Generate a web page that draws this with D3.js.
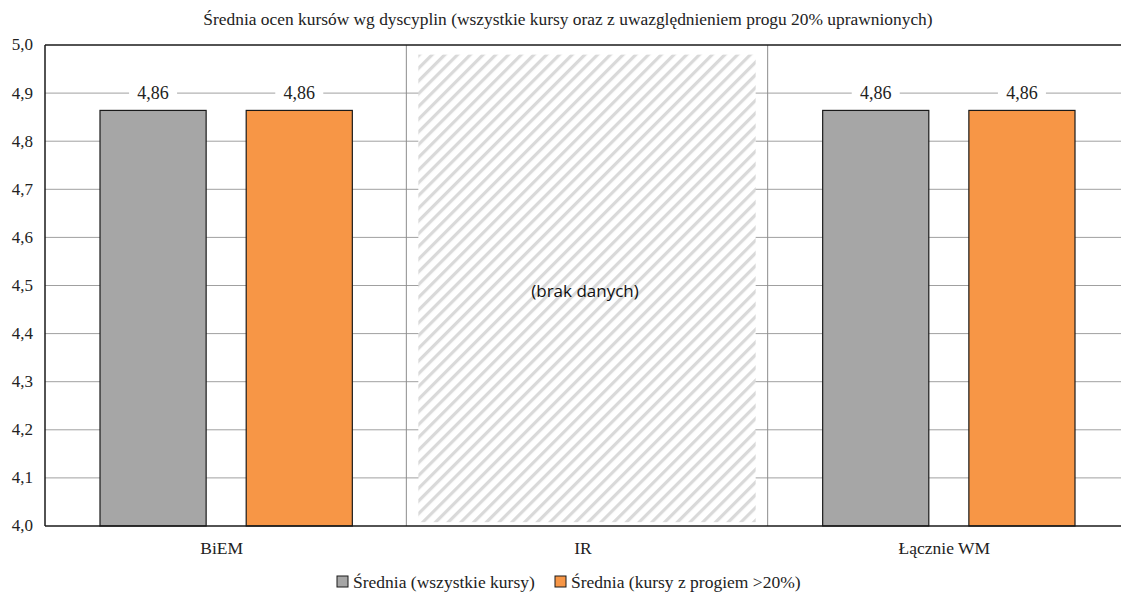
<!DOCTYPE html>
<html lang="pl">
<head>
<meta charset="UTF-8">
<title>Średnia ocen kursów wg dyscyplin</title>
<script src="https://d3js.org/d3.v7.min.js"></script>
<style>
  body { margin: 0; background: #fff; }
  svg { display: block; }
</style>
</head>
<body>
<div id="chart"></div>
<script>
// dane
const categories = ["BiEM", "IR", "Łącznie WM"];
const seriesNames = ["Średnia (wszystkie kursy)", "Średnia (kursy z progiem >20%)"];
const seriesColors = ["#a6a6a6", "#f79646"];
const avgAll = [4.864, null, 4.864];
const avgThreshold = [4.864, null, 4.864];
const valueLabels = ["4,86", null, "4,86"];
const yTicks = [4.0, 4.1, 4.2, 4.3, 4.4, 4.5, 4.6, 4.7, 4.8, 4.9, 5.0];
const noDataText = "(brak danych)";
const title = "Średnia ocen kursów wg dyscyplin (wszystkie kursy oraz z uwazględnieniem progu 20% uprawnionych)";

const SERIF = '"Liberation Serif", serif';
const SANS = '"Open Sans", "Liberation Sans", sans-serif';
const W = 1121, H = 592;
const margin = { top: 45, left: 45, bottom: 66 };
const plotW = 1084;               // plot runs past the right edge, as in the original
const plotH = H - margin.top - margin.bottom;

const svg = d3.select("#chart").append("svg")
  .attr("width", W).attr("height", H);

// hatch pattern for missing data
const defs = svg.append("defs");
const pat = defs.append("pattern")
  .attr("id", "hatch")
  .attr("patternUnits", "userSpaceOnUse")
  .attr("width", 9).attr("height", 9)
  .attr("patternTransform", "rotate(45)");
pat.append("rect").attr("width", 9).attr("height", 9).attr("fill", "#fff");
pat.append("rect").attr("width", 3.2).attr("height", 9).attr("fill", "#d9d9d9");

const g = svg.append("g").attr("transform", `translate(${margin.left},${margin.top})`);

const x = d3.scaleBand().domain(categories).range([0, plotW]);
const y = d3.scaleLinear().domain([4.0, 5.0]).range([plotH, 0]);
const xSub = d3.scaleBand().domain([0, 1]).range([55, x.bandwidth() - 54]).paddingInner(0.274);

// gridlines
g.append("g")
  .selectAll("line")
  .data(yTicks.filter(t => t > 4.0 && t < 5.0))
  .join("line")
  .attr("x1", 0).attr("x2", plotW)
  .attr("y1", d => y(d)).attr("y2", d => y(d))
  .attr("stroke", "#a0a0a0").attr("stroke-width", 1);

// category dividers
g.append("g")
  .selectAll("line")
  .data(categories.slice(1))
  .join("line")
  .attr("x1", d => x(d)).attr("x2", d => x(d))
  .attr("y1", 0).attr("y2", plotH)
  .attr("stroke", "#8c8c8c").attr("stroke-width", 1);

// no data block
categories.forEach((c, i) => {
  if (avgAll[i] !== null) return;
  const x0 = x(c) + 12, w = x.bandwidth() - 24;
  g.append("rect")
    .attr("x", x0).attr("y", y(4.98))
    .attr("width", w).attr("height", y(4.008) - y(4.98))
    .attr("fill", "url(#hatch)");
  g.append("text")
    .attr("x", x0 + w / 2 - 2).attr("y", y(4.5) + 11)
    .attr("text-anchor", "middle")
    .style("font-family", SANS)
    .style("font-size", "17px")
    .style("fill", "#111")
    .text(noDataText);
});

// bars
const series = [avgAll, avgThreshold];
series.forEach((vals, s) => {
  const rows = categories.map((c, i) => ({ c, v: vals[i], lab: valueLabels[i] })).filter(d => d.v !== null);
  g.append("g")
    .selectAll("rect")
    .data(rows)
    .join("rect")
    .attr("x", d => x(d.c) + xSub(s))
    .attr("y", d => y(d.v))
    .attr("width", xSub.bandwidth())
    .attr("height", d => plotH - y(d.v))
    .attr("fill", seriesColors[s])
    .attr("stroke", "#1a1a1a").attr("stroke-width", 1.2);

  // labels with white background over the gridline
  const lbl = g.append("g")
    .selectAll("g")
    .data(rows)
    .join("g")
    .attr("transform", d => `translate(${x(d.c) + xSub(s) + xSub.bandwidth() / 2},${y(d.v) - 18})`);
  lbl.append("rect")
    .attr("x", -24).attr("y", -10).attr("width", 48).attr("height", 20)
    .attr("fill", "#fff");
  lbl.append("text")
    .attr("text-anchor", "middle").attr("dy", "0.35em")
    .style("font-family", SERIF).style("font-size", "18px").style("fill", "#222")
    .text(d => d.lab);
});

// axes frame
g.append("line").attr("x1", 0).attr("x2", plotW).attr("y1", 0).attr("y2", 0)
  .attr("stroke", "#1a1a1a").attr("stroke-width", 1.5);
g.append("line").attr("x1", 0).attr("x2", plotW).attr("y1", plotH).attr("y2", plotH)
  .attr("stroke", "#1a1a1a").attr("stroke-width", 1.5);
g.append("line").attr("x1", 0).attr("x2", 0).attr("y1", 0).attr("y2", plotH)
  .attr("stroke", "#1a1a1a").attr("stroke-width", 1.5);

// y axis labels
const fmt = d3.format(".1f");
g.append("g")
  .selectAll("text")
  .data(yTicks)
  .join("text")
  .attr("x", -12).attr("y", d => y(d)).attr("dy", "0.32em")
  .attr("text-anchor", "end")
  .style("font-family", SERIF).style("font-size", "17px").style("fill", "#222")
  .text(d => fmt(d).replace(".", ","));

// x axis labels
g.append("g")
  .selectAll("text")
  .data(categories)
  .join("text")
  .attr("x", d => x(d) + x.bandwidth() / 2 - 4)
  .attr("y", plotH + 28)
  .attr("text-anchor", "middle")
  .style("font-family", SERIF).style("font-size", "17.5px").style("fill", "#222")
  .text(d => d);

// title
svg.append("text")
  .attr("x", 568).attr("y", 25)
  .attr("text-anchor", "middle")
  .style("font-family", SERIF).style("font-size", "17.4px").style("fill", "#222")
  .text(title);

// legend
const legend = svg.append("g").attr("transform", "translate(337,582)");
const legX = [0, 218];
seriesNames.forEach((n, i) => {
  const it = legend.append("g").attr("transform", `translate(${legX[i]},0)`);
  it.append("rect").attr("x", 0).attr("y", -6).attr("width", 11).attr("height", 11)
    .attr("fill", seriesColors[i]).attr("stroke", "#1a1a1a").attr("stroke-width", 1);
  it.append("text").attr("x", 16).attr("y", 0).attr("dy", "0.32em")
    .style("font-family", SERIF).style("font-size", "17.5px").style("fill", "#222")
    .text(n);
});
</script>
</body>
</html>
